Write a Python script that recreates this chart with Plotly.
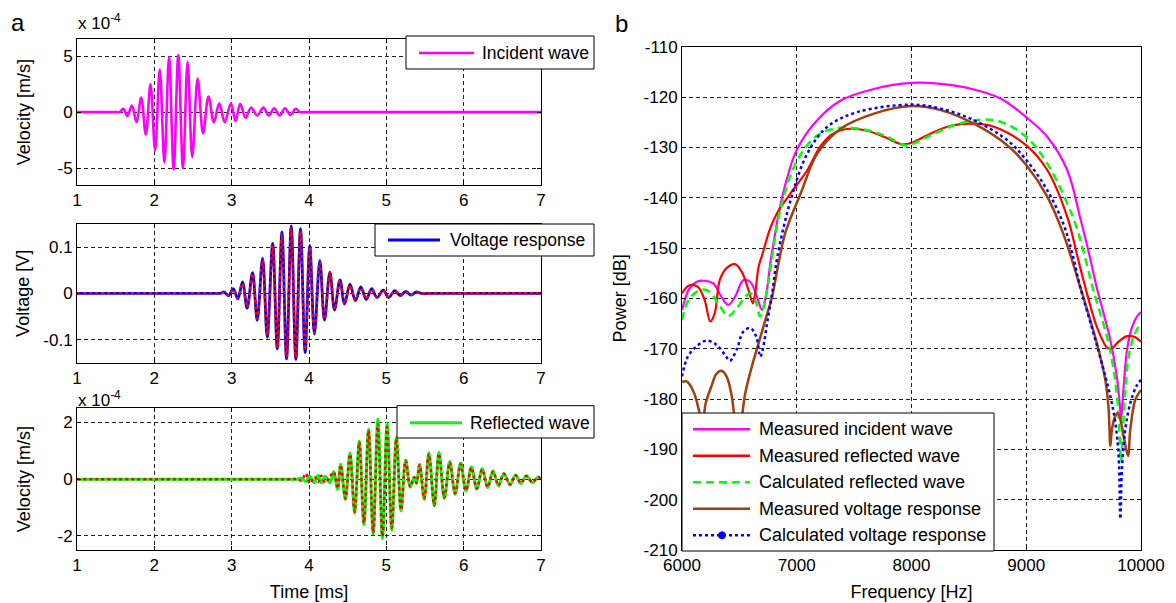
import plotly.graph_objects as go

W, H = 1176, 603
OFF = 8  # the page body adds an 8 px margin around the figure

# ---------------- panel a (top): incident wave, velocity in 1e-4 m/s ----------------
inc_t = [1.0, 1.3, 1.50, 1.55, 1.60, 1.65, 1.71, 1.77, 1.83, 1.89, 1.95, 2.01, 2.07, 2.13, 2.19,
         2.25, 2.31, 2.37, 2.43, 2.49, 2.56, 2.63, 2.70, 2.77, 2.84, 2.91, 2.99, 3.05, 3.11,
         3.18, 3.25, 3.33, 3.41, 3.48, 3.55, 3.62, 3.69, 3.76, 3.83, 3.88, 3.94, 4.05, 4.5,
         5.5, 6.5, 7.0]
inc_v = [0.0, 0.0, 0.0, 0.0, 0.3, -0.35, 0.6, -0.9, 1.3, -2.0, 2.5, -3.4, 3.8, -4.5, 4.9,
         -5.1, 5.1, -5.0, 4.5, -4.0, 3.0, -1.9, 1.4, -0.9, 0.8, -0.9, 0.8, -0.8, 0.75,
         -0.5, 0.4, -0.3, 0.4, -0.3, 0.35, -0.3, 0.35, -0.25, 0.3, 0.0, 0.0, 0.0, 0.0,
         0.0, 0.0, 0.0]

# ---------------- panel a (middle): voltage response [V] ----------------
volt_t = [1.0, 1.5, 2.0, 2.5, 2.8, 2.86, 2.9, 2.96, 3.02, 3.08, 3.14, 3.20, 3.27, 3.33, 3.40,
          3.46, 3.53, 3.59, 3.65, 3.71, 3.77, 3.83, 3.89, 3.95, 4.01, 4.07, 4.14, 4.20, 4.27,
          4.33, 4.40, 4.46, 4.53, 4.60, 4.67, 4.74, 4.81, 4.88, 4.96, 5.03, 5.11, 5.18, 5.25,
          5.32, 5.39, 5.45, 5.6, 6.0, 6.5, 7.0]
volt_meas = [0.0, 0.0, 0.0, 0.0, 0.0, 0.0, 0.003, -0.005, 0.010, -0.012, 0.025, -0.032, 0.045,
             -0.058, 0.076, -0.095, 0.108, -0.120, 0.133, -0.142, 0.146, -0.143, 0.140, -0.128,
             0.103, -0.088, 0.071, -0.058, 0.046, -0.036, 0.029, -0.023, 0.020, -0.016, 0.014,
             -0.013, 0.010, -0.009, 0.007, -0.009, 0.006, -0.005, 0.004, -0.004, 0.003, 0.0,
             0.0, 0.0, 0.0, 0.0]
volt_calc = [0.0, 0.0, 0.0, 0.0, 0.0, 0.0, 0.002, -0.004, 0.008, -0.010, 0.022, -0.030, 0.042,
             -0.055, 0.072, -0.090, 0.104, -0.117, 0.128, -0.138, 0.140, -0.138, 0.135, -0.122,
             0.100, -0.085, 0.068, -0.056, 0.044, -0.035, 0.028, -0.022, 0.018, -0.015, 0.012,
             -0.012, 0.009, -0.008, 0.006, -0.008, 0.005, -0.004, 0.003, -0.003, 0.002, 0.0,
             0.0, 0.0, 0.0, 0.0]

# ---------------- panel a (bottom): reflected wave, velocity in 1e-4 m/s ----------------
refl_t = [1.0, 2.0, 3.0, 3.78, 3.85, 3.90, 3.96, 4.01, 4.07, 4.12, 4.16, 4.21, 4.27, 4.32, 4.37,
          4.41, 4.47, 4.53, 4.59, 4.65, 4.71, 4.77, 4.83, 4.89, 4.95, 5.01, 5.07, 5.13, 5.19,
          5.25, 5.31, 5.36, 5.39, 5.43, 5.49, 5.55, 5.62, 5.68, 5.75, 5.82, 5.89, 5.96, 6.03,
          6.10, 6.17, 6.24, 6.31, 6.38, 6.45, 6.52, 6.60, 6.67, 6.74, 6.81, 6.89, 6.96, 7.0]
refl_meas = [0.0, 0.0, 0.0, 0.0, 0.0, 0.03, -0.08, 0.10, -0.12, 0.14, -0.13, 0.10, -0.13, 0.27,
             -0.36, 0.53, -0.72, 0.92, -1.20, 1.34, -1.60, 1.76, -1.93, 2.12, -2.10, 1.98, -1.80,
             1.47, -1.12, 0.68, -0.28, 0.08, -0.15, 0.53, -0.71, 0.92, -0.95, 0.95, -0.68, 0.62,
             -0.53, 0.57, -0.42, 0.43, -0.35, 0.37, -0.30, 0.29, -0.23, 0.20, -0.20, 0.15, -0.15,
             0.12, -0.12, 0.08, 0.0]
refl_calc = [0.0, 0.0, 0.0, 0.0, 0.0, -0.05, 0.20, -0.15, 0.08, -0.10, 0.12, -0.12, 0.09, 0.25,
             -0.33, 0.50, -0.68, 0.88, -1.15, 1.30, -1.55, 1.72, -1.88, 1.95, -2.02, 1.85, -1.72,
             1.42, -1.08, 0.65, -0.27, 0.07, -0.14, 0.50, -0.68, 0.88, -0.92, 0.90, -0.65, 0.58,
             -0.50, 0.53, -0.40, 0.40, -0.33, 0.34, -0.28, 0.27, -0.22, 0.19, -0.19, 0.14, -0.14,
             0.11, -0.11, 0.07, 0.0]

# ---------------- panel b: power spectra [dB] ----------------
f_inc = [6000, 6065, 6130, 6182, 6271, 6344, 6403, 6462, 6535, 6594, 6653, 6697, 6735, 6774, 6820,
         6861, 6930, 7000, 7151, 7383, 7673, 8000, 8254, 8544, 8776, 9000, 9183, 9357, 9470,
         9546, 9616, 9680, 9733, 9785, 9814, 9826, 9849, 9878, 9922, 9959, 10000]
p_inc = [-162.3, -158.0, -156.7, -156.5, -157.0, -159.7, -161.3, -159.7, -156.4, -156.7, -159.7,
         -162.3, -159.0, -152.3, -146.0, -141.1, -135.0, -130.5, -125.3, -120.7, -118.4, -117.2,
         -117.4, -118.5, -120.3, -124.0, -127.9, -134.5, -144.0, -151.0, -158.0, -163.5, -168.3,
         -174.9, -180.8, -184.0, -177.5, -170.3, -165.7, -163.8, -162.7]

f_refl = [6000, 6065, 6138, 6197, 6247, 6285, 6329, 6388, 6462, 6520, 6579, 6618, 6638, 6668, 6700,
          6770, 6830, 6950, 7093, 7200, 7300, 7400, 7470, 7615, 7790, 7920, 8000, 8138, 8312,
          8544, 8718, 9000, 9183, 9360, 9444, 9500, 9616, 9709, 9747, 9805, 9878, 9936, 10000]
p_refl = [-159.0, -157.4, -157.7, -160.3, -164.6, -163.0, -156.4, -154.0, -153.2, -154.7, -158.3,
          -161.0, -159.0, -153.7, -151.3, -146.0, -143.0, -139.0, -134.5, -130.0, -127.5, -126.5,
          -126.3, -126.7, -128.2, -129.4, -129.1, -127.6, -125.9, -125.3, -125.9, -129.6, -134.5,
          -144.0, -151.5, -156.5, -165.7, -169.9, -169.9, -168.6, -167.5, -167.6, -168.6]

f_calc = [6000, 6065, 6168, 6241, 6315, 6403, 6476, 6550, 6594, 6638, 6682, 6726, 6771, 6861, 7006,
          7180, 7383, 7615, 7790, 7935, 8000, 8138, 8371, 8602, 8776, 9000, 9183, 9357, 9440,
          9502, 9587, 9703, 9762, 9797, 9814, 9826, 9843, 9863, 9892, 9936, 10000]
p_calc = [-164.3, -160.0, -158.3, -158.7, -161.0, -163.5, -162.0, -159.7, -159.0, -160.3, -163.6,
          -160.3, -154.0, -142.0, -132.5, -127.6, -126.1, -126.6, -127.9, -129.6, -129.4, -127.9,
          -125.6, -124.5, -124.9, -127.9, -133.2, -141.1, -146.0, -151.0, -158.5, -167.6, -174.2,
          -180.8, -187.4, -192.6, -186.0, -178.2, -171.6, -167.6, -164.7]

f_vmeas = [6000, 6040, 6100, 6150, 6178, 6205, 6256, 6300, 6343, 6388, 6430, 6460, 6490, 6520, 6550,
           6609, 6668, 6726, 6785, 6829, 6900, 7035, 7180, 7383, 7673, 8000, 8254, 8544, 8835,
           9000, 9183, 9320, 9471, 9616, 9689, 9718, 9733, 9747, 9776, 9797, 9820, 9849, 9887,
           9907, 9951, 10000]
p_vmeas = [-176.6, -176.5, -178.5, -182.5, -186.0, -181.0, -177.5, -175.0, -174.4, -175.5, -179.0,
           -184.0, -188.0, -184.0, -179.0, -173.5, -168.9, -164.3, -159.7, -154.5, -147.0, -139.1,
           -131.2, -126.3, -123.3, -121.8, -122.6, -125.3, -129.6, -133.5, -139.8, -147.0, -157.8,
           -169.0, -176.2, -182.1, -189.3, -186.0, -183.4, -182.8, -184.1, -187.4, -191.3, -186.0,
           -180.1, -178.2]

f_vcalc = [6000, 6050, 6124, 6212, 6300, 6374, 6418, 6476, 6535, 6594, 6647, 6682, 6706, 6741, 6785,
           6832, 6948, 7093, 7267, 7528, 8000, 8254, 8544, 8835, 9000, 9183, 9328, 9400, 9471,
           9587, 9674, 9733, 9776, 9805, 9820, 9834, 9863, 9907, 9959, 10000]
p_vcalc = [-175.5, -171.6, -169.6, -168.4, -169.2, -171.2, -172.4, -170.2, -166.6, -165.9, -167.6,
           -171.6, -169.9, -165.0, -159.0, -151.6, -140.4, -131.2, -125.9, -123.0, -121.5, -122.3,
           -124.6, -128.6, -132.5, -138.5, -145.5, -151.0, -157.8, -167.0, -174.2, -179.5, -184.7,
           -191.3, -203.8, -193.9, -186.0, -180.8, -177.5, -176.2]

time_ticks = [1, 2, 3, 4, 5, 6, 7]
freq_ticks = [6000, 7000, 8000, 9000, 10000]
power_ticks = [-210, -200, -190, -180, -170, -160, -150, -140, -130, -120, -110]

MAGENTA, RED, GREEN, BLUE, BROWN = '#ff00ff', '#ff0000', '#00ff00', '#0000ff', '#a0400f'
FONT = 'Liberation Sans, Arial, sans-serif'


def px_x(p):
    return (p - OFF) / W


def px_y(p):
    return 1 - (p - OFF) / H


fig = go.Figure()

fig.add_trace(go.Scatter(x=inc_t, y=inc_v, mode='lines', name='Incident wave',
                         line=dict(color=MAGENTA, width=2.6, shape='spline'),
                         xaxis='x', yaxis='y'))
fig.add_trace(go.Scatter(x=volt_t, y=volt_meas, mode='lines', name='Voltage response',
                         line=dict(color=BLUE, width=2.8, shape='spline'),
                         xaxis='x2', yaxis='y2'))
fig.add_trace(go.Scatter(x=volt_t, y=volt_calc, mode='lines', name='Calculated voltage',
                         line=dict(color=RED, width=2.5, dash='dot', shape='spline'),
                         xaxis='x2', yaxis='y2'))
fig.add_trace(go.Scatter(x=refl_t, y=refl_meas, mode='lines', name='Reflected wave',
                         line=dict(color=GREEN, width=3, shape='spline'),
                         xaxis='x3', yaxis='y3'))
fig.add_trace(go.Scatter(x=refl_t, y=refl_calc, mode='lines', name='Calculated reflected',
                         line=dict(color=RED, width=2.5, dash='dot', shape='spline'),
                         xaxis='x3', yaxis='y3'))

spec = [
    (f_inc, p_inc, 'Measured incident wave', MAGENTA, 2.2, 'solid'),
    (f_refl, p_refl, 'Measured reflected wave', RED, 2.2, 'solid'),
    (f_calc, p_calc, 'Calculated reflected wave', GREEN, 2.5, '8px,5px'),
    (f_vmeas, p_vmeas, 'Measured voltage response', BROWN, 2.5, 'solid'),
    (f_vcalc, p_vcalc, 'Calculated voltage response', BLUE, 2.5, 'dot'),
]
for fx, py, nm, col, wd, ds in spec:
    fig.add_trace(go.Scatter(x=fx, y=py, mode='lines', name=nm,
                             line=dict(color=col, width=wd, dash=ds, shape='spline'),
                             xaxis='x4', yaxis='y4'))

common = dict(showline=True, mirror='ticks', linecolor='black', linewidth=1,
              ticks='inside', ticklen=4, tickcolor='black', automargin=False,
              showgrid=True, gridcolor='#222222', gridwidth=1, griddash='4px,3px',
              zeroline=False, tickfont=dict(size=17, color='black', family=FONT))

LX = [px_x(77), px_x(541)]
title_font = dict(size=18, color='black', family=FONT)

# ---- legends (box, sample line, label), drawn in page pixels ----
legend_boxes = [(406, 36, 594, 69), (375, 224, 594, 256), (397, 405.7, 594, 438),
                (682, 413, 994, 551)]
legend_items = [
    # x0, x1, y, text_x, label, colour, width, dash, font size
    (419, 474, 53, 480, 'Incident wave', MAGENTA, 2.6, 'solid', 17.5),
    (388, 440, 240, 448, 'Voltage response', BLUE, 2.8, 'solid', 17.5),
    (410, 462, 422.7, 468, 'Reflected wave', GREEN, 3, 'solid', 17.5),
    (693, 750, 429.3, 757, 'Measured incident wave', MAGENTA, 2.5, 'solid', 18),
    (693, 750, 455.7, 757, 'Measured reflected wave', RED, 2.5, 'solid', 18),
    (693, 750, 482.3, 757, 'Calculated reflected wave', GREEN, 2.5, '8px,5px', 18),
    (693, 750, 508.7, 757, 'Measured voltage response', BROWN, 2.5, 'solid', 18),
    (693, 750, 535.3, 757, 'Calculated voltage response', BLUE, 2.5, 'dot', 18),
]

shapes = []
annotations = []
for x0, y0, x1, y1 in legend_boxes:
    shapes.append(dict(type='rect', xref='paper', yref='paper', layer='above',
                       x0=px_x(x0), x1=px_x(x1), y0=px_y(y1), y1=px_y(y0),
                       fillcolor='white', line=dict(color='black', width=1)))
for x0, x1, yy, tx, label, col, wd, ds, fs in legend_items:
    shapes.append(dict(type='line', xref='paper', yref='paper', layer='above',
                       x0=px_x(x0), x1=px_x(x1), y0=px_y(yy), y1=px_y(yy),
                       line=dict(color=col, width=wd, dash=ds)))
    annotations.append(dict(text=label, x=px_x(tx), y=px_y(yy), xref='paper', yref='paper',
                            xanchor='left', yanchor='middle', showarrow=False,
                            font=dict(size=fs, family=FONT, color='black')))
# dot marker of the "Calculated voltage response" legend sample
shapes.append(dict(type='circle', xref='paper', yref='paper', layer='above',
                   x0=px_x(718.5), x1=px_x(725.5), y0=px_y(538.8), y1=px_y(531.8),
                   fillcolor=BLUE, line=dict(color=BLUE, width=1)))

annotations += [
    dict(text='a', x=px_x(18), y=px_y(23), xref='paper', yref='paper', showarrow=False,
         xanchor='center', yanchor='middle', font=dict(size=24, family=FONT, color='black')),
    dict(text='b', x=px_x(621), y=px_y(23.5), xref='paper', yref='paper', showarrow=False,
         xanchor='center', yanchor='middle', font=dict(size=24, family=FONT, color='black')),
    dict(text='x 10<sup>-4</sup>', x=px_x(76), y=px_y(22), xref='paper', yref='paper',
         xanchor='left', yanchor='middle', showarrow=False,
         font=dict(size=17, family=FONT, color='black')),
    dict(text='x 10<sup>-4</sup>', x=px_x(76), y=px_y(386), xref='paper', yref='paper',
         xanchor='left', yanchor='top', showarrow=False,
         font=dict(size=17, family=FONT, color='black')),
]

fig.update_layout(
    template='none', showlegend=False,
    width=W, height=H, margin=dict(l=0, r=0, t=0, b=0, autoexpand=False),
    paper_bgcolor='white', plot_bgcolor='white',
    font=dict(family=FONT, size=17, color='black'),
    xaxis=dict(domain=LX, anchor='y', range=[1, 7], tickvals=time_ticks, **common),
    yaxis=dict(domain=[px_y(185), px_y(39.3)], anchor='x', range=[-6.5, 6.5],
               tickvals=[-5, 0, 5], ticktext=['-5', '0', '5'],
               title=dict(text='Velocity [m/s]', font=title_font, standoff=22), **common),
    xaxis2=dict(domain=LX, anchor='y2', range=[1, 7], tickvals=time_ticks, **common),
    yaxis2=dict(domain=[px_y(362.7), px_y(224)], anchor='x2', range=[-0.15, 0.15],
                tickvals=[-0.1, 0, 0.1], ticktext=['-0.1', '0', '0.1'],
                title=dict(text='Voltage [V]', font=title_font, standoff=8), **common),
    xaxis3=dict(domain=LX, anchor='y3', range=[1, 7], tickvals=time_ticks,
                title=dict(text='Time [ms]', font=title_font, standoff=10), **common),
    yaxis3=dict(domain=[px_y(550), px_y(408.3)], anchor='x3', range=[-2.5, 2.5],
                tickvals=[-2, 0, 2], ticktext=['-2', '0', '2'],
                title=dict(text='Velocity [m/s]', font=title_font, standoff=22), **common),
    xaxis4=dict(domain=[px_x(682), px_x(1141)], anchor='y4', range=[6000, 10000],
                tickvals=freq_ticks, ticktext=[str(v) for v in freq_ticks],
                title=dict(text='Frequency [Hz]', font=title_font, standoff=10), **common),
    yaxis4=dict(domain=[px_y(550), px_y(46.7)], anchor='x4', range=[-210, -110],
                tickvals=power_ticks, ticktext=['-%d' % (-v) for v in power_ticks],
                title=dict(text='Power [dB]', font=title_font, standoff=12), **common),
    shapes=shapes,
    annotations=annotations,
)

fig.write_html('out.html')
